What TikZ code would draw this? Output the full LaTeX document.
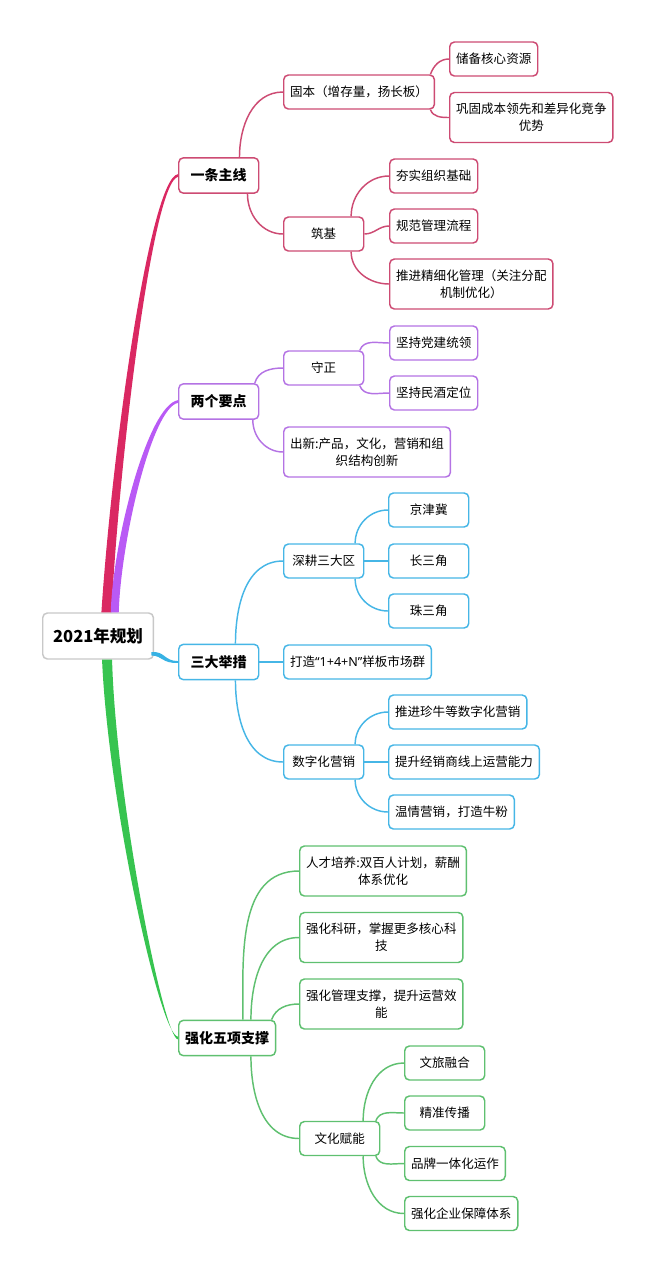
\documentclass[tikz,border=0pt]{standalone}
\usepackage{fontspec}
\setmainfont{Noto Sans CJK SC}
\newfontfamily\latinfont{Noto Sans}
\usepackage{xcolor}
\usepackage{tikz}

\definecolor{pinkline}{RGB}{218,40,98}
\definecolor{pinkbox}{RGB}{205,75,115}
\definecolor{purpleline}{RGB}{185,90,245}
\definecolor{purplebox}{RGB}{180,115,228}
\definecolor{blueline}{RGB}{55,178,228}
\definecolor{bluebox}{RGB}{70,182,230}
\definecolor{greenline}{RGB}{55,196,80}
\definecolor{greenbox}{RGB}{95,192,112}
\definecolor{rootgray}{RGB}{200,200,200}

\begin{document}
\begin{tikzpicture}[
    x=0.75pt, y=0.75pt,
    box/.style={draw, fill=white, rounded corners=3.5pt, line width=1.1pt, align=center, anchor=west,
        inner xsep=4.8pt, inner ysep=2pt, minimum width=60pt, minimum height=25.5pt,
        font=\fontsize{9.4}{12.8}\selectfont},
    tallbox/.style={box, minimum width=122pt, minimum height=37.5pt},
    mainbox/.style={box, minimum height=26.5pt, font=\fontsize{10.5}{13}\selectfont\bfseries},
    rootbox/.style={box, draw=rootgray, minimum width=83pt, minimum height=34.5pt,
        font=\fontsize{12.4}{15}\selectfont\bfseries},
    link/.style={line width=1.1pt}
]
\useasboundingbox (0,0) rectangle (650,-1272);

% --- centre topic ---
\node[rootbox] (root) at (42,-636) {2021年规划};

% --- 一条主线 ---
\node[mainbox, draw=pinkbox] (line) at (178,-175.5) {一条主线};
\node[box, draw=pinkbox] (guben) at (283,-92) {固本（增存量，扬长板）};
\node[box, draw=pinkbox] (zhuji) at (283,-234) {筑基};
\node[box, draw=pinkbox] (chubei) at (449,-59) {储备核心资源};
\node[tallbox, draw=pinkbox] (gonggu) at (449,-117.5) {巩固成本领先和差异化竞争\\优势};
\node[box, draw=pinkbox] (hangshi) at (389,-176) {夯实组织基础};
\node[box, draw=pinkbox] (guifan) at (389,-226) {规范管理流程};
\node[tallbox, draw=pinkbox] (jingxi) at (389,-284) {推进精细化管理（关注分配\\机制优化）};

% --- 两个要点 ---
\node[mainbox, draw=purplebox] (points) at (178,-401.5) {两个要点};
\node[box, draw=purplebox] (shouzheng) at (283,-368) {守正};
\node[tallbox, draw=purplebox] (chuxin) at (283,-452) {出新:产品，文化，营销和组\\织结构创新};
\node[box, draw=purplebox] (dangjian) at (389,-343) {坚持党建统领};
\node[box, draw=purplebox] (minjiu) at (389,-393) {坚持民酒定位};

% --- 三大举措 ---
\node[mainbox, draw=bluebox] (moves) at (178,-662) {三大举措};
\node[box, draw=bluebox] (shengeng) at (283,-561) {深耕三大区};
\node[box, draw=bluebox] (dazao) at (283,-662) {打造{\latinfont “1+4+N”}样板市场群};
\node[box, draw=bluebox] (shuzi) at (283,-762) {数字化营销};
\node[box, draw=bluebox] (jingjinji) at (388,-510) {京津冀};
\node[box, draw=bluebox] (changsanjiao) at (388,-561) {长三角};
\node[box, draw=bluebox] (zhusanjiao) at (388,-611) {珠三角};
\node[box, draw=bluebox] (zhenniu) at (388,-712) {推进珍牛等数字化营销};
\node[box, draw=bluebox] (xianshang) at (388,-762) {提升经销商线上运营能力};
\node[box, draw=bluebox] (wenqing) at (388,-812) {温情营销，打造牛粉};

% --- 强化五项支撑 ---
\node[mainbox, draw=greenbox] (support) at (178,-1038) {强化五项支撑};
\node[tallbox, draw=greenbox] (rencai) at (299,-871) {人才培养:双百人计划，薪酬\\体系优化};
\node[tallbox, draw=greenbox] (keyan) at (299,-937.5) {强化科研，掌握更多核心科\\技};
\node[tallbox, draw=greenbox] (guanli) at (299,-1004) {强化管理支撑，提升运营效\\能};
\node[box, draw=greenbox] (wenhua) at (299,-1138.5) {文化赋能};
\node[box, draw=greenbox] (wenlv) at (404,-1063) {文旅融合};
\node[box, draw=greenbox] (jingzhun) at (404,-1113) {精准传播};
\node[box, draw=greenbox] (pinpai) at (404,-1163.5) {品牌一体化运作};
\node[box, draw=greenbox] (baozhang) at (404,-1213.5) {强化企业保障体系};

% tapered trunks from the centre topic
\fill[pinkline] ([xshift=2.5pt]root.north) .. controls (112,-450) and (150,-178) .. ([yshift=1pt]line.west)
    -- ([yshift=-1pt]line.west) .. controls (153,-182) and (120,-450) .. ([xshift=10pt]root.north) -- cycle;
\fill[purpleline] ([xshift=9.5pt]root.north) .. controls (113,-540) and (148,-405) .. ([yshift=1pt]points.west)
    -- ([yshift=-1pt]points.west) .. controls (152,-408) and (121,-540) .. ([xshift=15.5pt]root.north) -- cycle;
\fill[blueline] ([xshift=-2pt,yshift=5.8pt]root.south east) .. controls (165,-651) and (164,-661) .. ([yshift=0.7pt]moves.west)
    -- ([yshift=-0.7pt]moves.west) .. controls (162,-663.5) and (163,-656) .. ([xshift=-2pt,yshift=3.2pt]root.south east) -- cycle;
\fill[greenline] ([xshift=3pt]root.south) .. controls (108,-800) and (160,-1036) .. ([yshift=1pt]support.west)
    -- ([yshift=-1pt]support.west) .. controls (164,-1040) and (116,-800) .. ([xshift=10.5pt]root.south) -- cycle;

% branch links
\draw[link, pinkbox] ([xshift=-15pt]line.north east) to[out=90, in=180] (guben.west);
\draw[link, pinkbox] ([xshift=-9pt]line.south east) to[out=-90, in=180] (zhuji.west);
\draw[link, pinkbox] ([xshift=-3.5pt]guben.north east) to[out=70, in=180] (chubei.west);
\draw[link, pinkbox] ([xshift=-3.5pt]guben.south east) to[out=-70, in=180] (gonggu.west);
\draw[link, pinkbox] ([xshift=-10pt]zhuji.north east) to[out=90, in=180] (hangshi.west);
\draw[link, pinkbox] (zhuji.east) to[out=0, in=180] (guifan.west);
\draw[link, pinkbox] ([xshift=-10pt]zhuji.south east) to[out=-90, in=180] (jingxi.west);

\draw[link, purplebox] ([xshift=-3.5pt]points.north east) to[out=75, in=180] (shouzheng.west);
\draw[link, purplebox] ([xshift=-5pt]points.south east) to[out=-90, in=180] (chuxin.west);
\draw[link, purplebox] ([xshift=-3.5pt]shouzheng.north east) to[out=70, in=180] (dangjian.west);
\draw[link, purplebox] ([xshift=-3.5pt]shouzheng.south east) to[out=-70, in=180] (minjiu.west);

\draw[link, bluebox] ([xshift=-18pt]moves.north east) to[out=90, in=180] (shengeng.west);
\draw[link, bluebox] (moves.east) -- (dazao.west);
\draw[link, bluebox] ([xshift=-18pt]moves.south east) to[out=-90, in=180] (shuzi.west);
\draw[link, bluebox] ([xshift=-7pt]shengeng.north east) to[out=90, in=180] (jingjinji.west);
\draw[link, bluebox] (shengeng.east) -- (changsanjiao.west);
\draw[link, bluebox] ([xshift=-7pt]shengeng.south east) to[out=-90, in=180] (zhusanjiao.west);
\draw[link, bluebox] ([xshift=-7pt]shuzi.north east) to[out=90, in=180] (zhenniu.west);
\draw[link, bluebox] (shuzi.east) -- (xianshang.west);
\draw[link, bluebox] ([xshift=-7pt]shuzi.south east) to[out=-90, in=180] (wenqing.west);

\draw[link, greenbox] ([xshift=-25pt]support.north east) to[out=90, in=180] (rencai.west);
\draw[link, greenbox] ([xshift=-19pt]support.north east) to[out=90, in=180] (keyan.west);
\draw[link, greenbox] ([xshift=-3.5pt]support.north east) to[out=70, in=180] (guanli.west);
\draw[link, greenbox] ([xshift=-19pt]support.south east) to[out=-90, in=180] (wenhua.west);
\draw[link, greenbox] ([xshift=-13pt]wenhua.north east) to[out=90, in=180] (wenlv.west);
\draw[link, greenbox] ([xshift=-3.5pt]wenhua.north east) to[out=70, in=180] (jingzhun.west);
\draw[link, greenbox] ([xshift=-3.5pt]wenhua.south east) to[out=-70, in=180] (pinpai.west);
\draw[link, greenbox] ([xshift=-13pt]wenhua.south east) to[out=-90, in=180] (baozhang.west);

\end{tikzpicture}
\end{document}
